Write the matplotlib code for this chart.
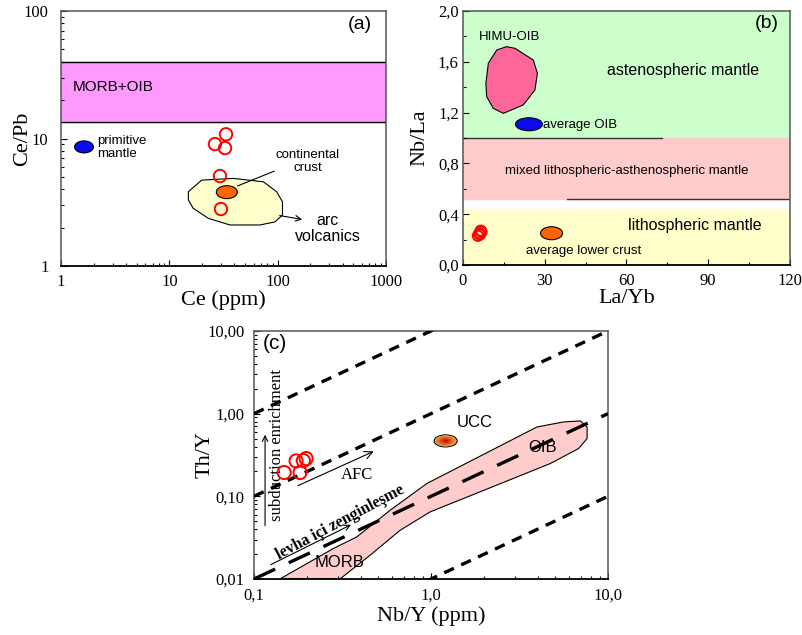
import numpy as np
import matplotlib
matplotlib.use('Agg')
import matplotlib.pyplot as plt
from matplotlib.patches import Ellipse, Polygon
from matplotlib.transforms import ScaledTranslation

plt.rcParams['font.family'] = 'Liberation Serif'
SANS = 'Liberation Sans'

# ---------------- data: panel (a) Ce/Pb vs Ce ----------------
a_ce = [33.4, 26.4, 32.7, 29.4, 30.0]
a_cepb = [10.8, 9.05, 8.42, 5.08, 2.8]
a_morb_oib = [13.5, 40.0]                 # Ce/Pb band
a_prim_mantle = (1.63, 8.6)
a_cont_crust = (34.0, 3.8)
a_arc_x = [15.0, 19.9, 39, 74, 98, 111, 111, 94.5, 68.7, 36.3, 22.9, 16.6, 15.0]
a_arc_y = [3.83, 4.72, 4.87, 4.58, 3.83, 3.19, 2.51, 2.22, 2.10, 2.10, 2.37, 2.84, 3.30]
a_xticks = [1, 10, 100, 1000]
a_xlabels = ['1', '10', '100', '1000']
a_yticks = [1, 10, 100]
a_ylabels = ['1', '10', '100']

# ---------------- data: panel (b) Nb/La vs La/Yb ----------------
b_layb = [6.5, 6.0, 5.5, 6.8, 6.2]
b_nbla = [0.27, 0.25, 0.23, 0.26, 0.24]
b_astheno = (1.0, 2.0)
b_mixed = (0.52, 1.0)
b_litho = (0.0, 0.44)
b_himu_x = [9.3, 12.4, 16.0, 19.1, 25.8, 27.3, 26.4, 22.1, 14.8, 11.1, 8.7, 8.4]
b_himu_y = [1.588, 1.693, 1.719, 1.706, 1.614, 1.509, 1.378, 1.26, 1.194, 1.234, 1.325, 1.431]
b_avg_oib = (24.2, 1.108)
b_lower_crust = (32.5, 0.25)
b_xticks = [0, 30, 60, 90, 120]
b_yticks = [0.0, 0.4, 0.8, 1.2, 1.6, 2.0]
b_ylabels = ['0,0', '0,4', '0,8', '1,2', '1,6', '2,0']

# ---------------- data: panel (c) Th/Y vs Nb/Y ----------------
c_nby = [0.148, 0.173, 0.182, 0.19, 0.197]
c_thy = [0.194, 0.268, 0.194, 0.270, 0.286]
c_ratio_lines = [10, 1, 0.01]             # Th/Nb reference lines
c_array_ratio = 0.1                       # MORB-OIB array line
c_field_x = [0.140, 0.281, 0.381, 0.588, 0.948, 3.97, 5.61, 6.98, 7.62, 7.62,
             6.83, 4.72, 0.989, 0.670, 0.453, 0.306]
c_field_y = [0.01, 0.0234, 0.0323, 0.0679, 0.143, 0.690, 0.794, 0.816, 0.690, 0.500,
             0.379, 0.249, 0.0648, 0.0389, 0.0194, 0.01]
c_ucc = (1.21, 0.468)
c_xticks = [0.1, 1, 10]
c_xlabels = ['0,1', '1,0', '10,0']
c_yticks = [0.01, 0.1, 1, 10]
c_ylabels = ['0,01', '0,10', '1,00', '10,00']

fig = plt.figure(figsize=(8.02, 6.35), dpi=100)
axa = fig.add_axes([0.0761, 0.581, 0.405, 0.4016])
axb = fig.add_axes([0.5773, 0.5827, 0.4077, 0.4])
axc = fig.add_axes([0.3167, 0.0882, 0.4414, 0.3906])


def style(ax):
    ax.tick_params(which='both', direction='in', top=False, right=False, labelsize=12)
    ax.tick_params(which='major', length=4, width=0.8, pad=6)
    ax.tick_params(which='minor', length=2.5, width=0.8)
    for s in ['left', 'top', 'right']:
        ax.spines[s].set_color('#555555')
        ax.spines[s].set_linewidth(1.1)
    ax.spines['bottom'].set_linewidth(1.3)


def blob(ax, xy, w, h, fc, z=4):
    # ellipse with a fixed size in pixels at a data position
    tr = fig.dpi_scale_trans + ScaledTranslation(xy[0], xy[1], ax.transData)
    ax.add_patch(Ellipse((0, 0), w / 100, h / 100, transform=tr, fc=fc, ec='k',
                         lw=0.8, zorder=z))


# ---------------- (a) ----------------
axa.set_xscale('log')
axa.set_yscale('log')
axa.set_xlim(1, 1000)
axa.set_ylim(1, 100)
axa.axhspan(a_morb_oib[0], a_morb_oib[1], color='#FF99FF', zorder=1)
for v in a_morb_oib:
    axa.axhline(v, color='k', lw=1.0, zorder=2)
axa.text(1.29, 25.3, 'MORB+OIB', family=SANS, fontsize=11, va='center')
axa.add_patch(Polygon(np.column_stack([a_arc_x, a_arc_y]), closed=True,
                      fc='#FFFFCC', ec='k', lw=0.8, zorder=2))
blob(axa, a_prim_mantle, 19, 12, '#0A0AF0')
axa.text(2.15, 8.5, 'primitive\nmantle', family=SANS, fontsize=9.5, va='center',
         linespacing=1.1)
blob(axa, a_cont_crust, 21, 13, '#FF6600')
axa.annotate('', xy=(40.4, 4.17), xytext=(98.6, 5.66),
             arrowprops=dict(arrowstyle='-', lw=0.8, color='k'), zorder=5)
axa.text(190, 6.66, 'continental\ncrust', family=SANS, fontsize=9.5, ha='center',
         va='center', linespacing=1.1)
axa.annotate('', xy=(179, 2.30), xytext=(98.6, 2.51),
             arrowprops=dict(arrowstyle='->', lw=0.8, color='k'), zorder=5)
axa.text(292, 1.97, 'arc\nvolcanics', family=SANS, fontsize=11.5, ha='center',
         va='center', linespacing=1.05)
axa.scatter(a_ce, a_cepb, s=80, facecolors='none', edgecolors='#FF0000', lw=1.4, zorder=6)
axa.text(575, 79, '(a)', family=SANS, fontsize=14, ha='center', va='center')
axa.set_xticks(a_xticks, a_xlabels)
axa.set_yticks(a_yticks, a_ylabels)
style(axa)
axa.tick_params(axis='y', pad=9)
axa.set_xlabel('Ce (ppm)', fontsize=16)
axa.set_ylabel('Ce/Pb', fontsize=16)
axa.yaxis.set_label_coords(-0.089, 0.5)
axa.xaxis.set_label_coords(0.5, -0.093)

# ---------------- (b) ----------------
axb.set_xlim(0, 120)
axb.set_ylim(0, 2.0)
axb.axhspan(*b_astheno, color='#CCFFCC', zorder=0)
axb.axhspan(*b_mixed, color='#FFCCCC', zorder=0)
axb.axhspan(*b_litho, color='#FFFFCC', zorder=0)
axb.plot([0, 73], [1.0, 1.0], color='#333333', lw=1.0, zorder=1)
axb.plot([38, 120], [0.52, 0.52], color='#333333', lw=1.0, zorder=1)
axb.add_patch(Polygon(np.column_stack([b_himu_x, b_himu_y]), closed=True,
                      fc='#FF6699', ec='k', lw=0.8, zorder=2))
axb.text(17.2, 1.795, 'HIMU-OIB', family=SANS, fontsize=9.5, ha='center', va='center')
blob(axb, b_avg_oib, 27, 13, '#0A0AF0')
axb.text(29.4, 1.10, 'average OIB', family=SANS, fontsize=9.5, va='center')
axb.text(80.8, 1.528, 'astenospheric mantle', family=SANS, fontsize=11.5,
         ha='center', va='center')
axb.text(60, 0.74, 'mixed lithospheric-asthenospheric mantle', family=SANS,
         fontsize=9.5, ha='center', va='center')
axb.text(85, 0.307, 'lithospheric mantle', family=SANS, fontsize=11.5,
         ha='center', va='center')
blob(axb, b_lower_crust, 22, 13, '#FF6600')
axb.text(44.4, 0.11, 'average lower crust', family=SANS, fontsize=9.5,
         ha='center', va='center')
axb.scatter(b_layb, b_nbla, s=55, facecolors='none', edgecolors='#FF0000', lw=1.4, zorder=6)
axb.text(111.4, 1.90, '(b)', family=SANS, fontsize=14, ha='center', va='center')
axb.set_xticks(b_xticks, [str(v) for v in b_xticks])
axb.set_xticks(np.arange(15, 120, 30), minor=True)
axb.set_yticks(b_yticks, b_ylabels)
axb.set_yticks(np.arange(0.2, 2.0, 0.4), minor=True)
style(axb)
axb.tick_params(axis='y', pad=3)
axb.set_xlabel('La/Yb', fontsize=16)
axb.set_ylabel('Nb/La', fontsize=16)
axb.yaxis.set_label_coords(-0.104, 0.5)
axb.xaxis.set_label_coords(0.5, -0.095)

# ---------------- (c) ----------------
axc.set_xscale('log')
axc.set_yscale('log')
axc.set_xlim(0.1, 10)
axc.set_ylim(0.01, 10)
axc.add_patch(Polygon(np.column_stack([c_field_x, c_field_y]), closed=True,
                      fc='#FFCCCC', ec='k', lw=0.8, zorder=1))
xs = np.array([0.1, 10])
for r in c_ratio_lines:
    axc.plot(xs, r * xs, color='k', lw=2.4, dashes=(3.2, 2.4), zorder=3)
axc.plot(xs, c_array_ratio * xs, color='k', lw=2.4, dashes=(7.0, 4.5), zorder=3)

# UCC with a radial red-orange gradient
tr = fig.dpi_scale_trans + ScaledTranslation(c_ucc[0], c_ucc[1], axc.transData)
outer = np.array([0.93, 0.68, 0.28])
inner = np.array([0.78, 0.04, 0.06])
for i, f in enumerate(np.linspace(1.0, 0.08, 14)):
    col = outer + (inner - outer) * (i / 13)
    axc.add_patch(Ellipse((0, 0), 0.23 * f, 0.12 * f, transform=tr, fc=col,
                          ec='k' if i == 0 else 'none', lw=0.8, zorder=5))
axc.text(1.76, 0.773, 'UCC', family=SANS, fontsize=12, ha='center', va='center')
axc.text(4.26, 0.385, 'OIB', family=SANS, fontsize=12, ha='center', va='center', zorder=4)
axc.text(0.306, 0.0157, 'MORB', family=SANS, fontsize=12, ha='center', va='center', zorder=4)

axc.annotate('', xy=(0.49, 0.361), xytext=(0.171, 0.130),
             arrowprops=dict(arrowstyle='->', lw=0.8, color='k', mutation_scale=14))
axc.text(0.381, 0.18, 'AFC', fontsize=12, ha='center', va='center')
axc.annotate('', xy=(0.1155, 0.601), xytext=(0.1155, 0.0408),
             arrowprops=dict(arrowstyle='->', lw=0.8, color='k', mutation_scale=10))
axc.text(0.1355, 0.415, 'subduction enrichment', fontsize=12, rotation=90,
         ha='center', va='center')
axc.annotate('', xy=(0.365, 0.0469), xytext=(0.1205, 0.0144),
             arrowprops=dict(arrowstyle='->', lw=0.8, color='k', mutation_scale=10))
axc.text(0.306, 0.048, 'levha içi zenginleşme', fontsize=11.5, fontweight='bold',
         rotation=28, ha='center', va='center', zorder=6)
axc.scatter(c_nby, c_thy, s=90, facecolors='none', edgecolors='#FF0000', lw=1.4, zorder=6)
axc.text(0.131, 7.04, '(c)', family=SANS, fontsize=15, ha='center', va='center')
axc.set_xticks(c_xticks, c_xlabels)
axc.set_yticks(c_yticks, c_ylabels)
style(axc)
axc.tick_params(axis='y', pad=7)
axc.set_xlabel('Nb/Y (ppm)', fontsize=16)
axc.set_ylabel('Th/Y', fontsize=16)
axc.yaxis.set_label_coords(-0.110, 0.5)
axc.xaxis.set_label_coords(0.5, -0.11)

fig.savefig('out.png', dpi=100)
